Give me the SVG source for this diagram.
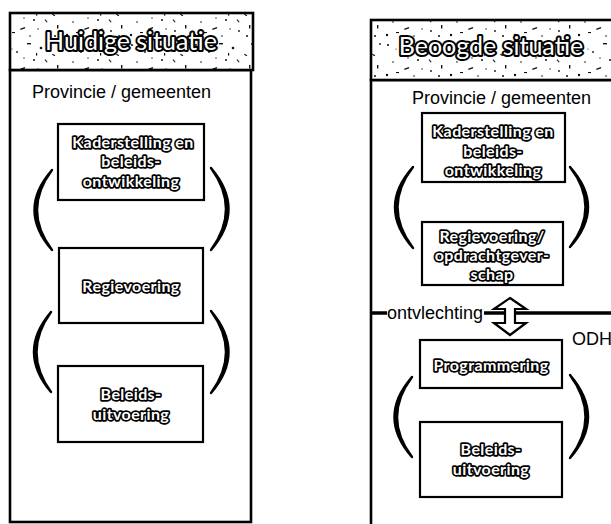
<svg xmlns="http://www.w3.org/2000/svg" width="611" height="524" viewBox="0 0 611 524">
  <defs>
    <!-- speckled fill used in the panel headers -->
    <pattern id="speckle" width="64" height="40" patternUnits="userSpaceOnUse">
      <rect width="64" height="40" fill="#fff"/>
      <g fill="#111">
        <circle cx="4" cy="5" r="1.1"/>
        <circle cx="17" cy="12" r="0.9"/>
        <rect x="27" y="3" width="4" height="1.4"/>
        <circle cx="41" cy="8" r="1.3"/>
        <rect x="52" y="14" width="3" height="1.2" transform="rotate(30 53 15)"/>
        <circle cx="9" cy="22" r="0.8"/>
        <rect x="20" y="28" width="5" height="1.3" transform="rotate(-20 22 28)"/>
        <circle cx="34" cy="20" r="1"/>
        <circle cx="47" cy="31" r="0.9"/>
        <rect x="57" y="25" width="1.4" height="3.5"/>
        <circle cx="3" cy="35" r="1.2"/>
        <circle cx="30" cy="36" r="0.8"/>
        <rect x="12" y="32" width="3" height="1.1"/>
        <circle cx="60" cy="4" r="0.9"/>
        <circle cx="38" cy="29" r="0.7"/>
        <circle cx="24" cy="18" r="0.7"/>
        <rect x="45" y="20" width="3.5" height="1" transform="rotate(50 46 20)"/>
        <circle cx="55" cy="36" r="1"/>
        <circle cx="12" cy="9" r="0.6"/>
        <rect x="36" y="13" width="1.2" height="2.6"/>
      </g>
    </pattern>
    <style>
      .frame { fill: #fff; stroke: #000; stroke-width: 2.6; }
      .head { fill: url(#speckle); stroke: #000; stroke-width: 2.6; }
      .box { fill: #fff; stroke: #000; stroke-width: 2.2; }
      .title { font-family: Lato, "Open Sans", sans-serif; font-size: 25px; fill: #fff; stroke: #000; stroke-width: 4; paint-order: stroke; stroke-linejoin: round; text-anchor: middle; }
      .lbl { font-family: Lato, "Open Sans", sans-serif; font-size: 16px; font-weight: 700; letter-spacing: 0.4px; fill: #fff; stroke: #000; stroke-width: 3.4; paint-order: stroke; stroke-linejoin: round; text-anchor: middle; }
      .plain { font-family: "Liberation Sans", Arial, sans-serif; font-size: 18px; fill: #000; }
      .brace { fill: #000; stroke: #000; stroke-width: 2.4; stroke-linecap: round; stroke-linejoin: round; }
      .link { stroke: #000; stroke-width: 3.5; fill: none; }
      .dbl { fill: #fff; stroke: #000; stroke-width: 2.2; stroke-linejoin: miter; }
    </style>
  </defs>

  <!-- left panel: current situation -->
  <g id="panel-huidig">
    <rect class="frame" x="10" y="70" width="241" height="452"/>
    <rect class="head" x="10" y="13" width="243" height="57"/>
    <text class="title" x="131" y="50">Huidige situatie</text>
    <text class="plain" x="32" y="98">Provincie / gemeenten</text>
  </g>

  <!-- right panel: intended situation -->
  <g id="panel-beoogd">
    <rect class="frame" x="371" y="80" width="260" height="460"/>
    <rect class="head" x="371" y="20" width="260" height="60"/>
    <text class="title" x="491" y="55">Beoogde situatie</text>
    <text class="plain" x="412" y="104">Provincie / gemeenten</text>
  </g>

  <!-- nodes, left panel -->
  <g id="l-kader">
    <rect class="box" x="58" y="124" width="146" height="76"/>
    <text class="lbl" x="133" y="148">Kaderstelling en</text>
    <text class="lbl" x="131" y="167">beleids-</text>
    <text class="lbl" x="131" y="187">ontwikkeling</text>
  </g>
  <g id="l-regie">
    <rect class="box" x="59" y="248" width="144" height="75"/>
    <text class="lbl" x="131" y="292">Regievoering</text>
  </g>
  <g id="l-uitvoering">
    <rect class="box" x="58" y="366" width="145" height="76"/>
    <text class="lbl" x="131" y="400">Beleids-</text>
    <text class="lbl" x="131" y="420">uitvoering</text>
  </g>

  <!-- nodes, right panel -->
  <g id="r-kader">
    <rect class="box" x="422" y="113" width="143" height="69"/>
    <text class="lbl" x="493" y="137">Kaderstelling en</text>
    <text class="lbl" x="493" y="157">beleids-</text>
    <text class="lbl" x="493" y="176">ontwikkeling</text>
  </g>
  <g id="r-regie">
    <rect class="box" x="422" y="222" width="141" height="63"/>
    <text class="lbl" x="492" y="242">Regievoering/</text>
    <text class="lbl" x="492" y="261">opdrachtgever-</text>
    <text class="lbl" x="492" y="280">schap</text>
  </g>
  <g id="r-programmering">
    <rect class="box" x="420" y="340" width="142" height="48"/>
    <text class="lbl" x="491" y="371">Programmering</text>
  </g>
  <g id="r-uitvoering">
    <rect class="box" x="420" y="422" width="142" height="75"/>
    <text class="lbl" x="491" y="455">Beleids-</text>
    <text class="lbl" x="491" y="475">uitvoering</text>
  </g>

  <!-- connectors: cycle brackets, split line and double arrow -->
  <g id="connectors">
    <path class="brace" d="M52,170 Q17,210 52,250 Q22,210 52,170 Z"/>
    <path class="brace" d="M211,168 Q246,209 211,250 Q241,209 211,168 Z"/>
    <path class="brace" d="M51,312 Q17,352 51,392 Q22,352 51,312 Z"/>
    <path class="brace" d="M211,311 Q246,352 211,393 Q241,352 211,311 Z"/>

    <path class="brace" d="M413,167 Q377,207 413,248 Q382,207 413,167 Z"/>
    <path class="brace" d="M570,167 Q606,207 570,247 Q601,207 570,167 Z"/>
    <path class="brace" d="M412,377 Q377,417 412,457 Q382,417 412,377 Z"/>
    <path class="brace" d="M570,375 Q606,417 570,458 Q601,417 570,375 Z"/>

    <line class="link" x1="371" y1="313" x2="387" y2="313"/>
    <line class="link" x1="484" y1="313" x2="611" y2="313"/>
    <polygon class="dbl" points="510,298 526,309 515,309 515,323 526,323 510,335 494,323 505,323 505,309 494,309"/>
    <text class="plain" x="387" y="319">ontvlechting</text>
    <text class="plain" x="572" y="345">ODH</text>
  </g>
</svg>
